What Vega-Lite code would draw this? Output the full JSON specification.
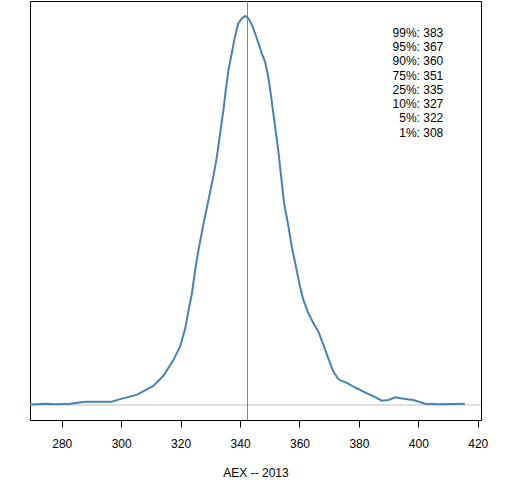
{
  "$schema": "https://vega.github.io/schema/vega-lite/v6.json",
  "width": 451,
  "height": 419,
  "autosize": {"type": "none"},
  "padding": {"left": 30, "top": 1, "right": 31, "bottom": 60},
  "config": {
    "view": {"stroke": "black", "strokeWidth": 1},
    "font": "Liberation Sans",
    "text": {"font": "Liberation Sans"}
  },
  "layer": [
    {
      "data": {"values": [{"baseline": 0}]},
      "mark": {"type": "rule", "color": "#bebebe", "strokeWidth": 1},
      "encoding": {
        "y": {
          "field": "baseline",
          "type": "quantitative",
          "scale": {"domain": [-0.0386, 1.0386], "nice": false},
          "axis": null
        }
      }
    },
    {
      "data": {"values": [{"center": 342.5}]},
      "mark": {"type": "rule", "color": "#00e000", "strokeWidth": 1},
      "encoding": {"x": {"field": "center", "type": "quantitative"}}
    },
    {
      "data": {
        "values": [
          {"x": 269.3, "density": 0.001},
          {"x": 274.4, "density": 0.003},
          {"x": 278.0, "density": 0.002},
          {"x": 282.8, "density": 0.003},
          {"x": 287.9, "density": 0.008},
          {"x": 296.8, "density": 0.0085},
          {"x": 299.6, "density": 0.015},
          {"x": 305.2, "density": 0.026},
          {"x": 310.8, "density": 0.049},
          {"x": 314.2, "density": 0.075},
          {"x": 317.6, "density": 0.116},
          {"x": 319.8, "density": 0.15},
          {"x": 321.5, "density": 0.195},
          {"x": 322.6, "density": 0.24},
          {"x": 323.8, "density": 0.287},
          {"x": 324.9, "density": 0.347},
          {"x": 326.0, "density": 0.398},
          {"x": 327.8, "density": 0.47},
          {"x": 329.6, "density": 0.535},
          {"x": 331.0, "density": 0.587},
          {"x": 332.2, "density": 0.638},
          {"x": 333.3, "density": 0.698},
          {"x": 334.4, "density": 0.758},
          {"x": 335.2, "density": 0.81},
          {"x": 336.1, "density": 0.861},
          {"x": 337.2, "density": 0.904},
          {"x": 338.3, "density": 0.947},
          {"x": 339.4, "density": 0.981},
          {"x": 340.6, "density": 0.994},
          {"x": 341.7, "density": 1.0},
          {"x": 342.8, "density": 0.994},
          {"x": 344.0, "density": 0.977},
          {"x": 345.1, "density": 0.955},
          {"x": 346.2, "density": 0.93},
          {"x": 347.3, "density": 0.904},
          {"x": 348.4, "density": 0.883},
          {"x": 349.5, "density": 0.844},
          {"x": 350.3, "density": 0.801},
          {"x": 351.2, "density": 0.75},
          {"x": 352.1, "density": 0.698},
          {"x": 352.9, "density": 0.652},
          {"x": 353.7, "density": 0.596},
          {"x": 354.8, "density": 0.52},
          {"x": 356.3, "density": 0.458},
          {"x": 357.4, "density": 0.407},
          {"x": 358.8, "density": 0.356},
          {"x": 360.2, "density": 0.304},
          {"x": 361.3, "density": 0.27},
          {"x": 363.0, "density": 0.236},
          {"x": 364.7, "density": 0.21},
          {"x": 366.4, "density": 0.188},
          {"x": 368.1, "density": 0.154},
          {"x": 369.7, "density": 0.12},
          {"x": 371.4, "density": 0.086},
          {"x": 373.1, "density": 0.066},
          {"x": 375.9, "density": 0.057},
          {"x": 379.3, "density": 0.043},
          {"x": 382.7, "density": 0.03},
          {"x": 385.5, "density": 0.02},
          {"x": 387.7, "density": 0.011},
          {"x": 389.9, "density": 0.013},
          {"x": 392.2, "density": 0.02},
          {"x": 395.0, "density": 0.016},
          {"x": 398.3, "density": 0.013},
          {"x": 402.3, "density": 0.003},
          {"x": 407.3, "density": 0.002},
          {"x": 415.7, "density": 0.003}
        ]
      },
      "mark": {"type": "line", "color": "#4682b4", "strokeWidth": 2},
      "encoding": {
        "x": {
          "field": "x",
          "type": "quantitative",
          "scale": {"domain": [269.3, 421.1], "nice": false, "zero": false},
          "axis": {
            "values": [280, 300, 320, 340, 360, 380, 400, 420],
            "domain": false,
            "grid": false,
            "ticks": true,
            "tickColor": "black",
            "tickSize": 7,
            "labelFontSize": 12,
            "labelColor": "black",
            "labelPadding": 11,
            "title": "AEX -- 2013",
            "titleFontSize": 12,
            "titleFontWeight": "normal",
            "titleColor": "black",
            "titlePadding": 18
          }
        },
        "y": {
          "field": "density",
          "type": "quantitative",
          "scale": {"domain": [-0.0386, 1.0386], "nice": false},
          "axis": null
        }
      }
    },
    {
      "data": {
        "values": [
          {"label": "99%: 383", "p": 99},
          {"label": "95%: 367", "p": 95},
          {"label": "90%: 360", "p": 90},
          {"label": "75%: 351", "p": 75},
          {"label": "25%: 335", "p": 25},
          {"label": "10%: 327", "p": 10},
          {"label": "5%: 322", "p": 5},
          {"label": "1%: 308", "p": 1}
        ]
      },
      "transform": [
        {"window": [{"op": "row_number", "as": "line"}], "sort": [{"field": "p", "order": "descending"}]}
      ],
      "mark": {"type": "text", "align": "right", "baseline": "middle", "fontSize": 12, "color": "black"},
      "encoding": {
        "x": {"datum": 408.4},
        "y": {
          "field": "line",
          "type": "quantitative",
          "scale": {"domain": [-1.249, 28.2], "nice": false, "zero": false, "reverse": true},
          "axis": null
        },
        "text": {"field": "label"}
      }
    }
  ],
  "resolve": {"scale": {"y": "independent"}}
}
